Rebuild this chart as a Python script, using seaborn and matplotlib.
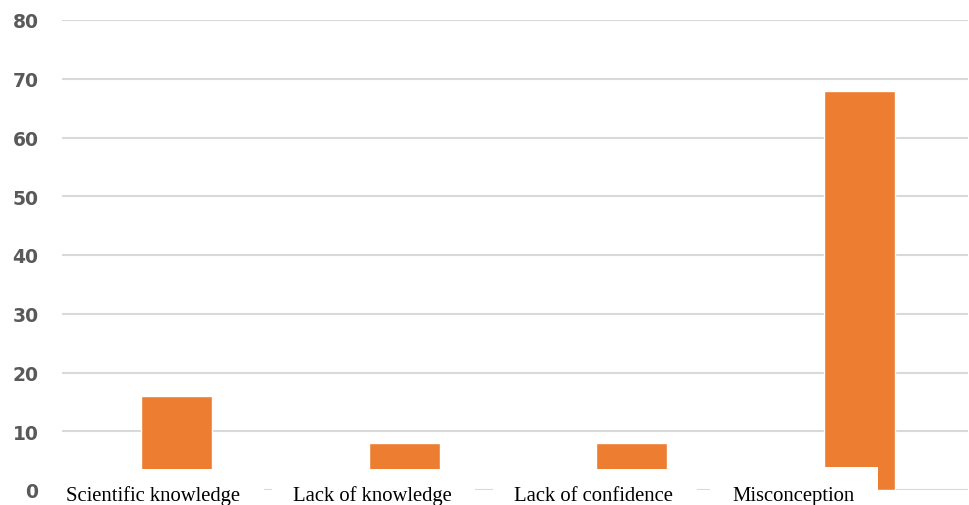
import matplotlib
matplotlib.use("Agg")
import matplotlib.pyplot as plt
from matplotlib.patches import Rectangle
import seaborn as sns
import pandas as pd

categories = ["Scientific knowledge", "Lack of knowledge", "Lack of confidence", "Misconception"]
values = [16, 8, 8, 68]
y_ticks = [0, 10, 20, 30, 40, 50, 60, 70, 80]

sns.set_theme(style="white")
plt.rcParams["font.family"] = ["DejaVu Sans"]

W, H = 970, 506
fig = plt.figure(figsize=(W / 100, H / 100), dpi=100)


def fx(x):
    return x / W


def fy(y):
    return (H - y) / H


# plot area in pixel terms (left, top, right, bottom)
L, T, R, B = 62, 21, 968, 491
ax = fig.add_axes([fx(L), fy(B), fx(R) - fx(L), fy(T) - fy(B)])

df = pd.DataFrame({"category": categories, "value": values})
sns.barplot(data=df, x="category", y="value", color="#ED7D31", width=0.312,
            saturation=1, ax=ax, zorder=3)

step = 227.7
ax.set_xlim(-(176.5 - L) / step, 3 + (R - 859.5) / step)
ax.set_ylim(0, 80)
ax.set_yticks(y_ticks)
ax.set_yticklabels([str(v) for v in y_ticks], fontsize=13.5, fontweight="bold",
                   color="#595959")
ax.tick_params(axis="y", length=0, pad=17)
ax.set_xticks([])
ax.set_xlabel("")
ax.set_ylabel("")
ax.grid(axis="y", color="#d9d9d9", linewidth=1.5, zorder=0)
ax.set_axisbelow(True)
for s in ax.spines.values():
    s.set_visible(False)

# category labels on white boxes along the bottom
boxes = [(50, 470, 264), (272, 470, 475), (493, 470, 697), (710, 468, 878)]
text_left = [66, 293, 514, 732]
for (x0, y0, x1), tx, name in zip(boxes, text_left, categories):
    fig.add_artist(Rectangle((fx(x0), fy(H + 5)), fx(x1) - fx(x0), fy(y0) - fy(H + 5),
                             transform=fig.transFigure, facecolor="white",
                             edgecolor="none", zorder=5))
    fig.text(fx(tx), fy(501), name, fontsize=14.9, family=["Liberation Serif"],
             color="black", ha="left", va="baseline", zorder=6)

fig.savefig("out.png", dpi=100)
